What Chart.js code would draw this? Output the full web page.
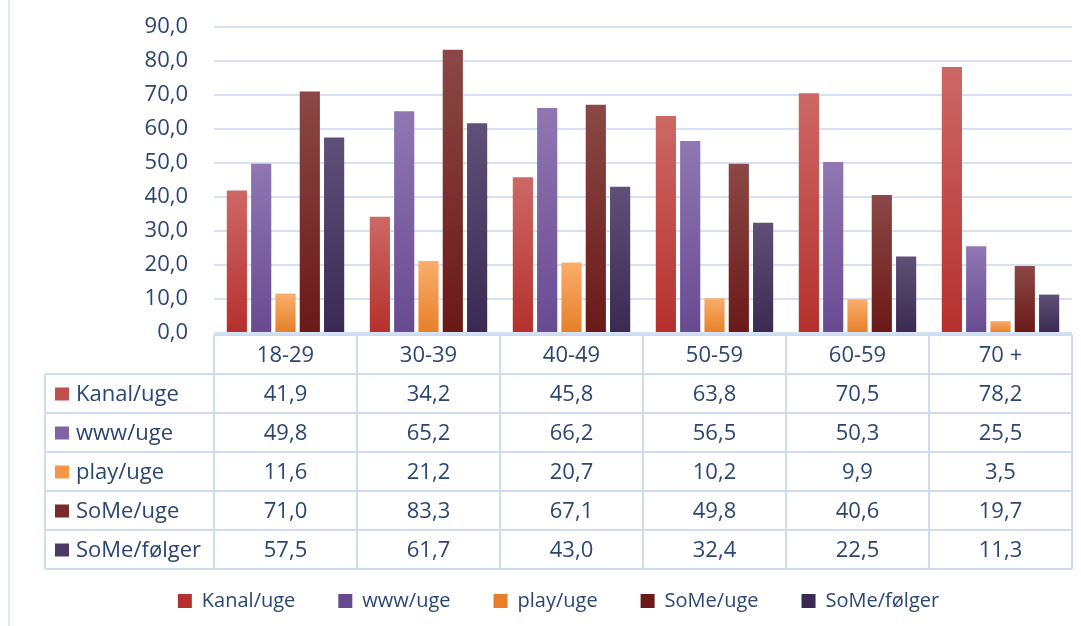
<!DOCTYPE html>
<html lang="da">
<head>
<meta charset="UTF-8">
<title>Brug pr. aldersgruppe</title>
<script src="https://cdn.jsdelivr.net/npm/chart.js"></script>
<style>
  html, body { margin: 0; padding: 0; background: #fff; }
  #wrap { width: 1081px; height: 626px; position: relative; }
</style>
</head>
<body>
<div id="wrap"><canvas id="chart"></canvas></div>
<script>
// data
const ageGroups = ['18-29', '30-39', '40-49', '50-59', '60-59', '70 +'];
const kanalUge = [41.9, 34.2, 45.8, 63.8, 70.5, 78.2];
const wwwUge = [49.8, 65.2, 66.2, 56.5, 50.3, 25.5];
const playUge = [11.6, 21.2, 20.7, 10.2, 9.9, 3.5];
const someUge = [71.0, 83.3, 67.1, 49.8, 40.6, 19.7];
const someFolger = [57.5, 61.7, 43.0, 32.4, 22.5, 11.3];
const yTicks = [0, 10, 20, 30, 40, 50, 60, 70, 80, 90];

const textColor = '#2b4672';
const lineColor = '#cddcf0';
const fontFamily = '"Open Sans", sans-serif';

const fmt = v => v.toFixed(1).replace('.', ',');

// vertical gradient for each bar, lighter at the top
function barFill(top, bottom, solid) {
    return ctx => {
        const chart = ctx.chart;
        if (ctx.type !== 'data' || !chart.chartArea) return solid;
        const y = chart.scales.y;
        const yTop = y.getPixelForValue(ctx.parsed.y);
        const yBase = y.getPixelForValue(0);
        if (!(yBase > yTop)) return solid;
        const g = chart.ctx.createLinearGradient(0, yTop, 0, yBase);
        g.addColorStop(0, top);
        g.addColorStop(1, bottom);
        return g;
    };
}

const series = [
    { label: 'Kanal/uge', data: kanalUge, c: ['#cd6865', '#b6302d', '#c0504d'] },
    { label: 'www/uge', data: wwwUge, c: ['#9077b2', '#684a91', '#8064a2'] },
    { label: 'play/uge', data: playUge, c: ['#fbad6c', '#e67f28', '#f79646'] },
    { label: 'SoMe/uge', data: someUge, c: ['#8b4846', '#6a1917', '#772c2a'] },
    { label: 'SoMe/følger', data: someFolger, c: ['#5f5077', '#3a2a52', '#4b3a63'] }
];

const ROW_H = 39;
const LEFT_COL = 45;

// data table under the bars, drawn on the x scale's columns
const dataTable = {
    id: 'dataTable',
    afterDraw(chart) {
        const ctx = chart.ctx;
        const xs = chart.scales.x;
        const left = chart.chartArea.left;
        const right = chart.chartArea.right;
        const top = chart.chartArea.bottom + 2;
        const n = ageGroups.length;
        const colW = (right - left) / n;
        const rows = chart.data.datasets.length;
        const bottom = top + ROW_H * (rows + 1);

        ctx.save();
        ctx.strokeStyle = lineColor;
        ctx.lineWidth = 2;
        ctx.beginPath();
        ctx.moveTo(left, top); ctx.lineTo(right, top);
        for (let r = 1; r <= rows + 1; r++) {
            const y = top + r * ROW_H;
            ctx.moveTo(LEFT_COL, y); ctx.lineTo(right, y);
        }
        for (let i = 0; i <= n; i++) {
            const x = left + i * colW;
            ctx.moveTo(x, top); ctx.lineTo(x, bottom);
        }
        ctx.moveTo(LEFT_COL, top + ROW_H); ctx.lineTo(LEFT_COL, bottom);
        ctx.stroke();

        ctx.fillStyle = textColor;
        ctx.font = '22px ' + fontFamily;
        ctx.textBaseline = 'middle';
        ctx.textAlign = 'center';
        ageGroups.forEach((g, i) => {
            ctx.fillText(g, xs.getPixelForTick(i), top + ROW_H / 2 + 1);
        });
        chart.data.datasets.forEach((ds, r) => {
            const yMid = top + (r + 1.5) * ROW_H + 1;
            ctx.textAlign = 'center';
            ctx.fillStyle = textColor;
            ds.data.forEach((v, i) => {
                ctx.fillText(fmt(v), xs.getPixelForTick(i), yMid);
            });
            ctx.fillStyle = series[r].c[2];
            ctx.fillRect(LEFT_COL + 10, yMid - 7, 14, 13);
            ctx.fillStyle = textColor;
            ctx.textAlign = 'left';
            ctx.fillText(ds.label, LEFT_COL + 31, yMid);
        });

        // outer frame line on the left
        ctx.strokeStyle = '#dde7f5';
        ctx.beginPath();
        ctx.moveTo(9, 0); ctx.lineTo(9, chart.height);
        ctx.stroke();
        ctx.restore();
    }
};

new Chart(document.getElementById('chart'), {
    type: 'bar',
    data: {
        labels: ageGroups,
        datasets: series.map(s => ({
            label: s.label,
            data: s.data,
            backgroundColor: barFill(s.c[0], s.c[1], s.c[2]),
            borderWidth: 0,
            categoryPercentage: 0.85,
            barPercentage: 0.83
        }))
    },
    options: {
        responsive: true,
        maintainAspectRatio: false,
        animation: false,
        layout: { padding: { top: 27, right: 9, left: LEFT_COL, bottom: 5 } },
        scales: {
            x: {
                ticks: { display: false },
                grid: { display: false },
                border: { display: false },
                afterFit: scale => { scale.height = 215; }
            },
            y: {
                min: 0,
                max: 90,
                afterFit: scale => {
                    scale.width = 214 - LEFT_COL;
                    scale.paddingTop = 0;
                    scale.paddingBottom = 0;
                },
                afterBuildTicks: scale => { scale.ticks = yTicks.map(v => ({ value: v })); },
                ticks: {
                    padding: 26,
                    color: textColor,
                    font: { family: fontFamily, size: 22 },
                    callback: v => fmt(v)
                },
                grid: { color: '#d6e2f3', lineWidth: 2, drawTicks: false },
                border: { display: false }
            }
        },
        plugins: {
            legend: {
                position: 'bottom',
                labels: {
                    boxWidth: 14,
                    boxHeight: 14,
                    padding: 43,
                    color: textColor,
                    font: { family: fontFamily, size: 20 }
                }
            },
            tooltip: { enabled: false }
        }
    },
    plugins: [dataTable]
});
</script>
</body>
</html>
